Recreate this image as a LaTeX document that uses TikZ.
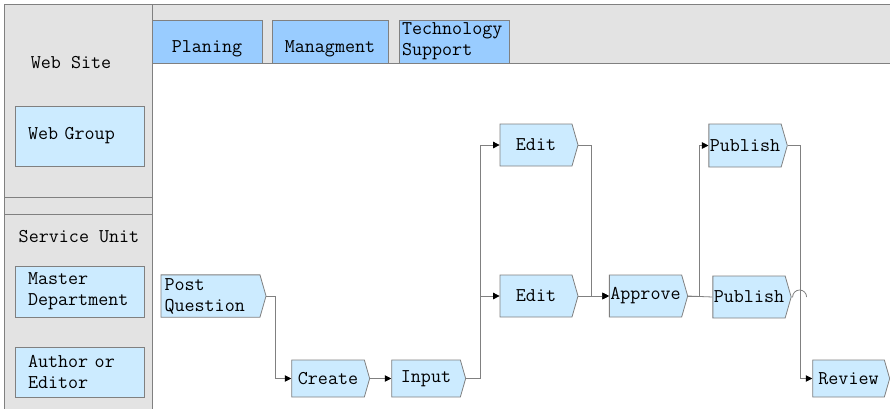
\documentclass[tikz,border=0pt]{standalone}
\usetikzlibrary{shapes.symbols,arrows.meta}
\definecolor{lanegray}{HTML}{E3E3E3}
\definecolor{tabblue}{HTML}{99CCFF}
\definecolor{boxblue}{HTML}{CCEBFF}
\definecolor{wiregray}{HTML}{808080}
\begin{document}
\begin{tikzpicture}[x=1pt,y=-1pt,line width=.8pt,font=\ttfamily\fontsize{19.5}{21}\selectfont,
  lane/.style={draw=wiregray,fill=lanegray},
  tab/.style={draw=wiregray,fill=tabblue,minimum height=43pt,inner sep=2pt},
  role/.style={draw=wiregray,fill=boxblue,minimum width=129pt,inner xsep=13pt,text width=103pt,align=left},
  stage/.style={shape=signal,signal to=east,signal pointer angle=148,draw=wiregray,fill=boxblue,
    minimum height=37pt,inner xsep=1pt},
  wire/.style={draw=wiregray},
  flow/.style={wire,-{Triangle[length=6.5pt,width=6.5pt,color=black]}}]
  \useasboundingbox (0,0) rectangle (890,408);
  % lanes
  \path[lane] (152,4) rectangle (892,63);
  \path[lane] (4,4) rectangle (152,410);
  \draw[wiregray] (4,197)--(152,197);
  \draw[wiregray] (4,214)--(152,214);
  \node (site) at (71,63) {Web Site};
  \node (unit) at (79,237) {Service Unit};
  \node[role,minimum height=60pt] (group) at (79.5,136) {Web Group};
  \node[role,minimum height=51pt] (master) at (79.5,291.5) {Master\\Department};
  \node[role,minimum height=50pt] (author) at (79.5,372) {Author or\\Editor};
  % tabs
  \node[tab,minimum width=110pt,text height=25pt,text depth=4pt] (plan) at (207,41.5) {Planing};
  \node[tab,minimum width=116pt,text height=25pt,text depth=4pt] (manage) at (330,41.5) {Managment};
  \node[tab,minimum width=110pt,text width=104pt,align=left] (tech) at (454,41.5) {Technology\\Support};
  % stages
  \node[stage,minimum height=42pt,minimum width=105pt,text width=92pt,align=left] (post) at (210.5,296) {Post\\Question};
  \node[stage,minimum width=78pt] (create) at (328,378.5) {Create};
  \node[stage,minimum width=74pt] (input) at (426,378.5) {Input};
  \node[stage,minimum height=42pt,minimum width=78pt] (edit1) at (536,145) {Edit};
  \node[stage,minimum height=42pt,minimum width=78pt] (edit2) at (536,296) {Edit};
  \node[stage,minimum height=42pt,minimum width=77pt] (approve) at (645.5,296) {Approve};
  \node[stage,minimum height=43pt,minimum width=76pt] (pub1) at (745,145.5) {Publish};
  \node[stage,minimum height=42pt,minimum width=76pt] (pub2) at (749,297) {Publish};
  \node[stage,minimum width=77pt] (review) at (848.5,378.5) {Review};
  % connectors
  \draw[flow] (post.east) -- ++(9,0) |- (create.west);
  \draw[flow] (create.east) -- (input.west);
  \draw[wire] (input.east) -- ++(14,0) coordinate (fork);
  \draw[flow] (fork) |- (edit1.west);
  \draw[flow] (fork) |- (edit2.west);
  \draw[flow] (edit1.east) -- ++(13,0) |- (approve.west);
  \draw[flow] (edit2.east) -- (approve.west);
  \draw[flow] (approve.east) -- ++(11,0) |- (pub1.west);
  \draw[wire] (approve.east) -- (pub2.west);
  \draw[flow] (pub1.east) -- ++(13,0) |- (review.west);
  \draw[wire] (pub2.east) -- ++(1,0) arc[start angle=180,end angle=360,radius=7];
\end{tikzpicture}
\end{document}
